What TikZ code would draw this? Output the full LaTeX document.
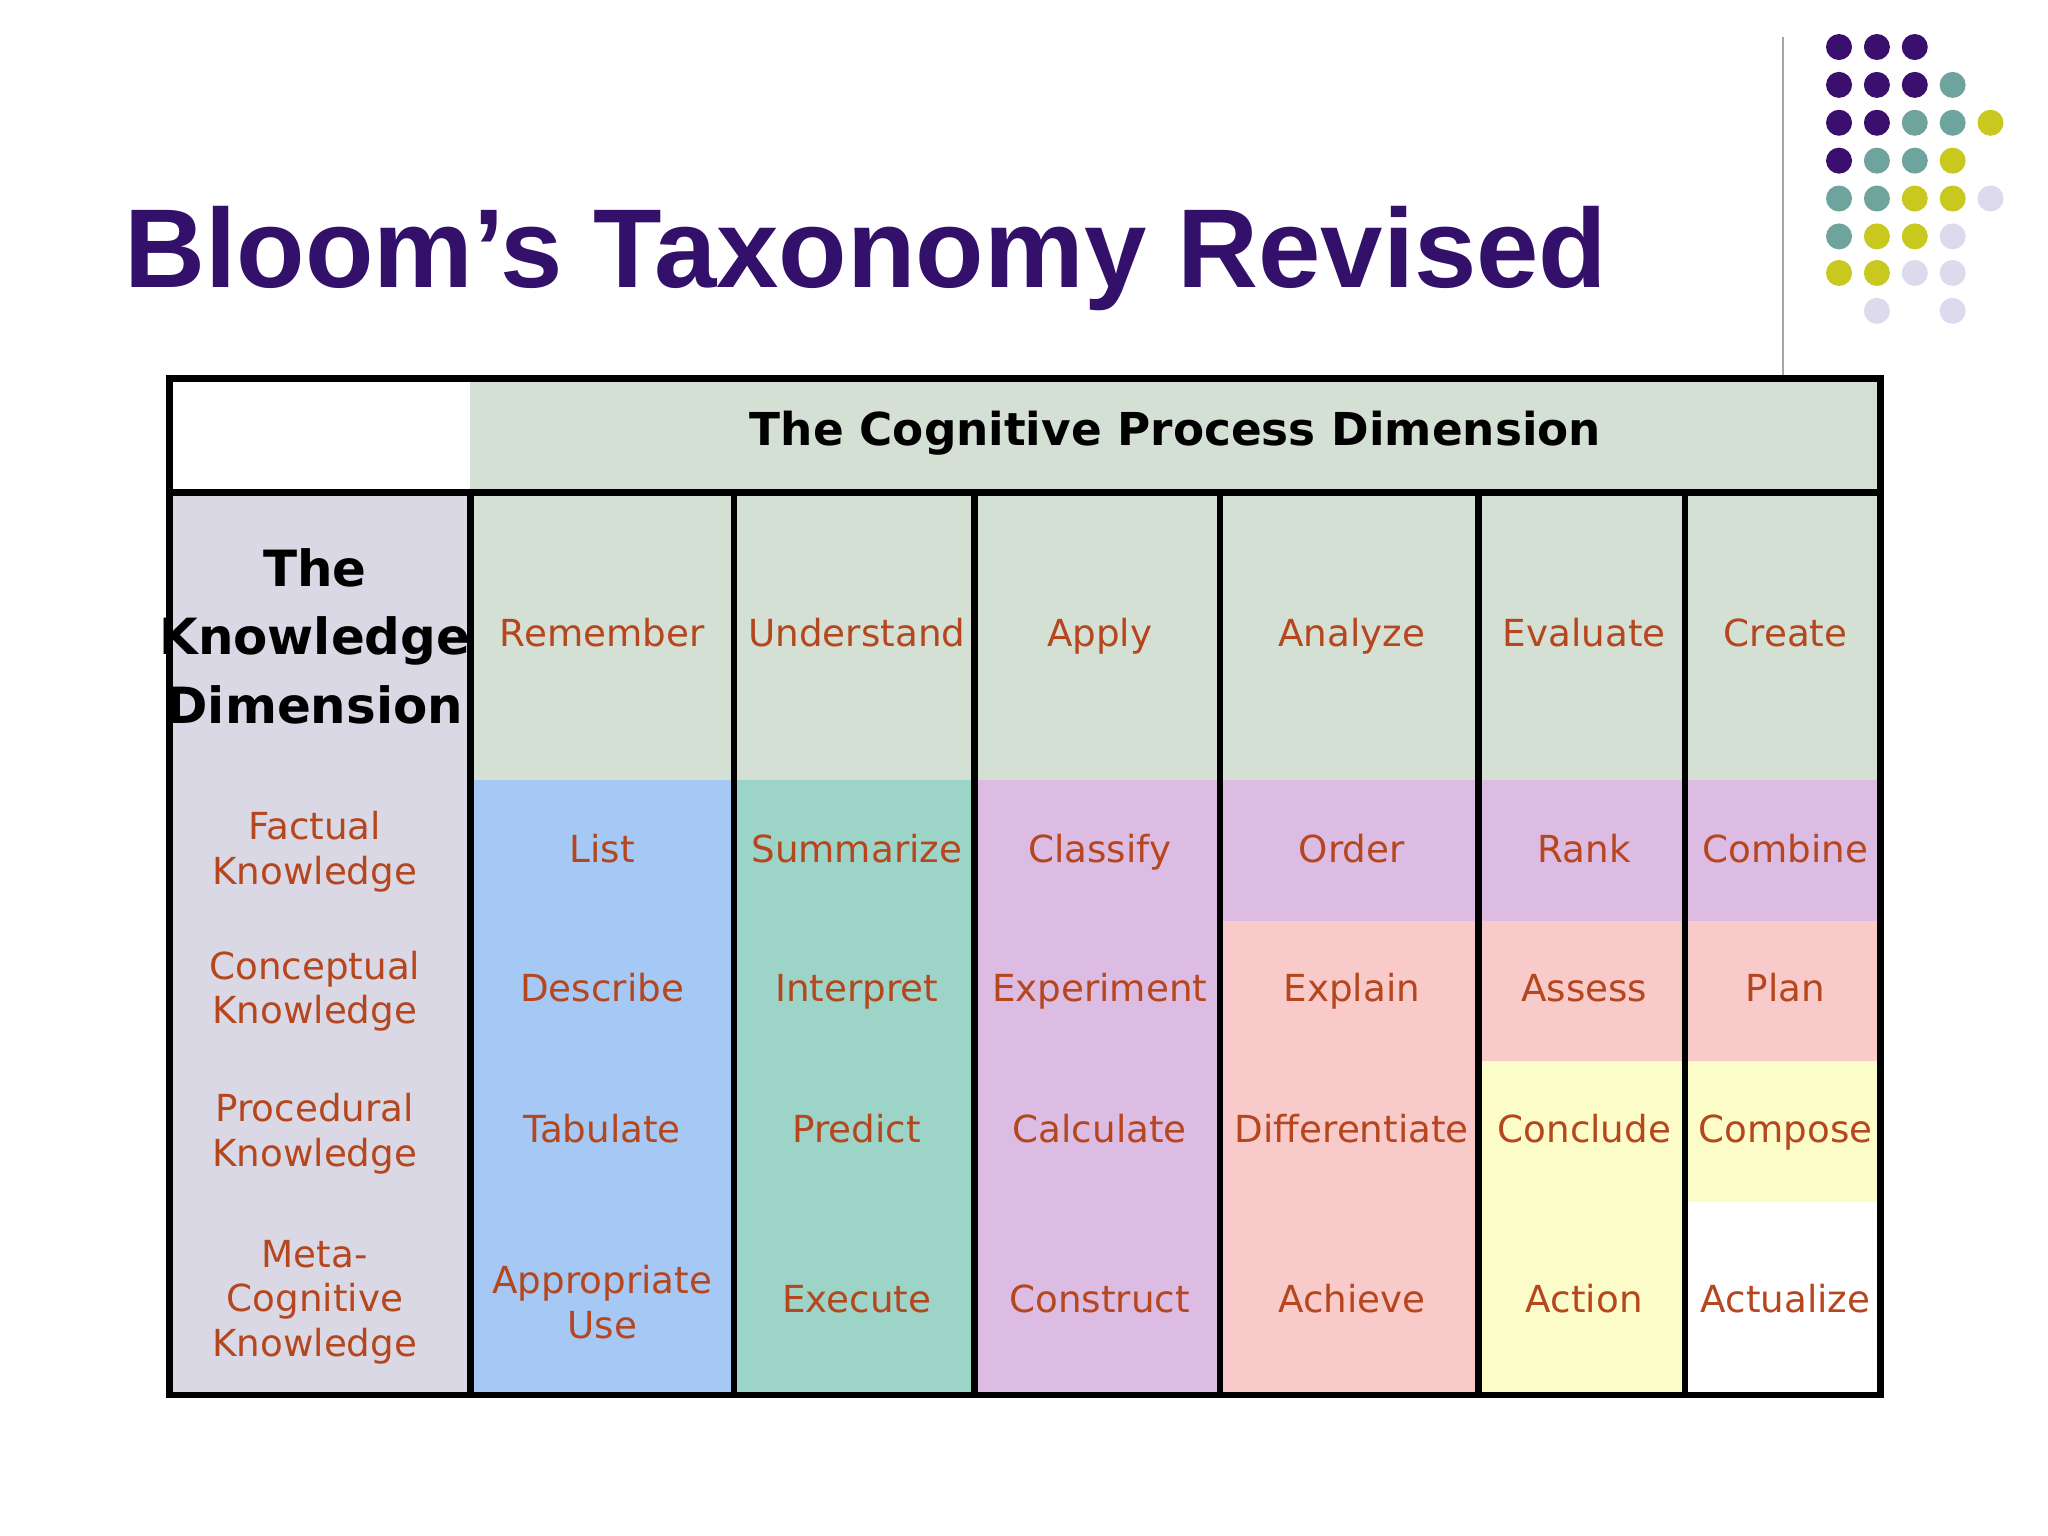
\documentclass[tikz,border=0pt]{standalone}
\usepackage{fontspec}
\setmainfont{DejaVu Sans}
\newfontfamily\titlefont{Liberation Sans}
\definecolor{tpurple}{HTML}{33106A}
\definecolor{dpurple}{HTML}{3B0F6E}
\definecolor{dteal}{HTML}{6FA39E}
\definecolor{dyellow}{HTML}{C8C81E}
\definecolor{dlav}{HTML}{DCDAEC}
\definecolor{hgreen}{HTML}{D5E0D5}
\definecolor{lgray}{HTML}{DAD8E4}
\definecolor{cblue}{HTML}{A6C8F5}
\definecolor{cteal}{HTML}{9CD5C8}
\definecolor{clilac}{HTML}{DDBCE3}
\definecolor{cpink}{HTML}{F9CACA}
\definecolor{cyel}{HTML}{FCFCC8}
\definecolor{ctext}{HTML}{B5461E}
\begin{document}
\begin{tikzpicture}[x=0.013061cm,y=-0.013061cm,
  cellm/.style={font=\fontsize{10.6}{12.6}\selectfont, text=ctext, align=center},
  cell/.style={cellm, text height=1.55ex, text depth=0.45ex},
  bold/.style={font=\bfseries\fontsize{14.2}{19.5}\selectfont, align=center},
  dot/.style={circle, minimum size=7.4pt, inner sep=0pt}]
\useasboundingbox (0,0) rectangle (1568,1176);
\fill[white] (0,0) rectangle (1568,1176);
\node[anchor=base west, inner sep=0, text=tpurple, font=\titlefont\bfseries\fontsize{31.9}{36}\selectfont] (title) at (95,220) {Bloom’s Taxonomy Revised};
\draw[gray!70, line width=0.6pt] (1365,28) -- (1365,287);
% dots
\foreach \x/\y/\c in {1408/36/dpurple,1437/36/dpurple,1466/36/dpurple,
 1408/65/dpurple,1437/65/dpurple,1466/65/dpurple,1495/65/dteal,
 1408/94/dpurple,1437/94/dpurple,1466/94/dteal,1495/94/dteal,1524/94/dyellow,
 1408/123/dpurple,1437/123/dteal,1466/123/dteal,1495/123/dyellow,
 1408/152/dteal,1437/152/dteal,1466/152/dyellow,1495/152/dyellow,1524/152/dlav,
 1408/181/dteal,1437/181/dyellow,1466/181/dyellow,1495/181/dlav,
 1408/209/dyellow,1437/209/dyellow,1466/209/dlav,1495/209/dlav,
 1437/238/dlav,1495/238/dlav}
 \node[dot, fill=\c] at (\x,\y) {};
% backgrounds
\fill[hgreen] (360,290) rectangle (1440,597);
\fill[lgray] (130,377) rectangle (360,1068);
\fill[cblue] (360,597) rectangle (562,1068);
\fill[cteal] (562,597) rectangle (746,1068);
\fill[clilac] (746,597) rectangle (1440,705);
\fill[clilac] (746,705) rectangle (934,1068);
\fill[cpink] (934,705) rectangle (1440,812);
\fill[cpink] (934,812) rectangle (1132,1068);
\fill[cyel] (1132,812) rectangle (1440,920);
\fill[cyel] (1132,920) rectangle (1290,1068);
% lines
\draw[line width=1.9pt] (130,290) rectangle (1440,1068);
\draw[line width=1.9pt] (130,377) -- (1440,377);
\foreach \x in {360,562,746,934,1132,1290} \draw[line width=1.9pt] (\x,377) -- (\x,1068);
% header
\node[font=\bfseries\fontsize{12.9}{15}\selectfont] (hdr) at (900,332) {The Cognitive Process Dimension};
\node[bold] (kd) at (241,487) {The\\Knowledge\\Dimension};
% column names
\node[cell] (c1) at (461,487) {Remember};
\node[cell] (c2) at (656,487) {Understand};
\node[cell] (c3) at (842,487) {Apply};
\node[cell] (c4) at (1035,487) {Analyze};
\node[cell] (c5) at (1213,487) {Evaluate};
\node[cell] (c6) at (1367,487) {Create};
% row labels
\node[cellm] (r1) at (241,652) {Factual\\Knowledge};
\node[cellm] (r2) at (241,759) {Conceptual\\Knowledge};
\node[cellm] (r3) at (241,868) {Procedural\\Knowledge};
\node[cellm] (r4) at (241,997) {Meta-\\Cognitive\\Knowledge};
% cells
\node[cell] at (461,652) {List};
\node[cell] at (656,652) {Summarize};
\node[cell] at (842,652) {Classify};
\node[cell] at (1035,652) {Order};
\node[cell] at (1213,652) {Rank};
\node[cell] at (1367,652) {Combine};
\node[cell] at (461,759) {Describe};
\node[cell] at (656,759) {Interpret};
\node[cell] at (842,759) {Experiment};
\node[cell] at (1035,759) {Explain};
\node[cell] at (1213,759) {Assess};
\node[cell] at (1367,759) {Plan};
\node[cell] at (461,867) {Tabulate};
\node[cell] at (656,867) {Predict};
\node[cell] at (842,867) {Calculate};
\node[cell] at (1035,867) {Differentiate};
\node[cell] at (1213,867) {Conclude};
\node[cell] at (1367,867) {Compose};
\node[cellm] at (461,997) {Appropriate\\Use};
\node[cell] at (656,997) {Execute};
\node[cell] at (842,997) {Construct};
\node[cell] at (1035,997) {Achieve};
\node[cell] at (1213,997) {Action};
\node[cell] at (1367,997) {Actualize};
\end{tikzpicture}
\end{document}
